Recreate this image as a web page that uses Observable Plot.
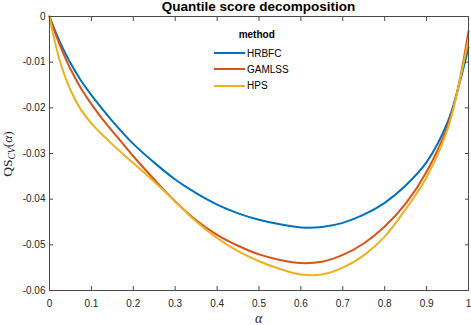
<!DOCTYPE html>
<html>
<head>
<meta charset="utf-8">
<script src="https://cdn.jsdelivr.net/npm/d3@7"></script>
<script src="https://cdn.jsdelivr.net/npm/@observablehq/plot@0.6"></script>
<style>
  html, body { margin: 0; padding: 0; background: #fff; }
  #wrap { position: relative; width: 471px; height: 325px; overflow: hidden;
          font-family: "Liberation Sans", Arial, Helvetica, sans-serif; color: #262626; }
  #wrap svg { position: absolute; left: 0; top: 0; }
  .title { position: absolute; left: 258.6px; top: 0px; transform: translateX(-50%);
           font-weight: bold; font-size: 13.5px; line-height: 1; white-space: nowrap; color: #000; }
  .ylab { position: absolute; left: 9px; top: 153.5px; transform: translate(-50%, -50%) rotate(-90deg);
          font-family: "Liberation Serif", "DejaVu Serif", serif; font-size: 13.5px; line-height: 1; white-space: nowrap; color: #262626; }
  .ylab .ov { border-top: 1px solid #262626; padding-top: 0px; }
  .ylab sub { font-size: 9.5px; vertical-align: -3px; }
  .xlab { position: absolute; left: 258.6px; top: 319px; transform: translate(-50%, -50%);
          font-family: "Liberation Serif", "DejaVu Serif", serif; font-style: italic; font-size: 14px; line-height: 1; color: #262626; }
  .legtitle { position: absolute; left: 256.7px; top: 30px; transform: translateX(-50%);
              font-weight: bold; font-size: 10px; line-height: 1; color: #000; }
  .legend { position: absolute; left: 214px; top: 45.2px; font-size: 10px; color: #000; }
  .row { display: flex; align-items: center; height: 16.2px; }
  .swatch { width: 31px; height: 2px; margin-right: 2px; }
</style>
</head>
<body>
<div id="wrap"></div>
<script>
// ---- data ----
const methods = ["HRBFC", "GAMLSS", "HPS"];
const colors = ["#0072BD", "#D95319", "#EDB120"];
const alpha = [0, 0.01, 0.025, 0.05, 0.075, 0.1, 0.125, 0.15, 0.2, 0.25, 0.3, 0.35, 0.4, 0.45, 0.5,
               0.55, 0.6, 0.65, 0.7, 0.75, 0.8, 0.85, 0.9, 0.95, 0.975, 1];
const hrbfc  = [0, -0.0024, -0.0056, -0.0102, -0.0140, -0.0172, -0.0201, -0.0229, -0.0279, -0.0320, -0.0357, -0.0387, -0.0412,
                -0.0431, -0.0445, -0.0455, -0.0462, -0.0461, -0.0452, -0.0434, -0.0408, -0.0370, -0.0319, -0.0232, -0.0158, -0.0068];
const gamlss = [0, -0.0027, -0.0063, -0.0115, -0.0157, -0.0192, -0.0223, -0.0251, -0.0306, -0.0357, -0.0405, -0.0446, -0.0478,
                -0.0502, -0.0521, -0.0533, -0.0540, -0.0537, -0.0522, -0.0497, -0.0460, -0.0410, -0.0340, -0.0240, -0.0157, -0.0032];
const hps    = [0, -0.0044, -0.0098, -0.0161, -0.0204, -0.0234, -0.0258, -0.0280, -0.0321, -0.0362, -0.0405, -0.0449, -0.0485,
                -0.0514, -0.0536, -0.0553, -0.0565, -0.0565, -0.0550, -0.0523, -0.0482, -0.0422, -0.0352, -0.0247, -0.0158, -0.0049];
const xTicks = [0, 0.1, 0.2, 0.3, 0.4, 0.5, 0.6, 0.7, 0.8, 0.9, 1];
const xTickLabels = ["0", "0.1", "0.2", "0.3", "0.4", "0.5", "0.6", "0.7", "0.8", "0.9", "1"];
const yTicks = [-0.06, -0.05, -0.04, -0.03, -0.02, -0.01, 0];
const yTickLabels = ["-0.06", "-0.05", "-0.04", "-0.03", "-0.02", "-0.01", "0"];
const titleText = "Quantile score decomposition";
const legendTitle = "method";

// ---- build ----
const series = [hrbfc, gamlss, hps];
const rows = methods.flatMap((m, i) => alpha.map((a, j) => ({alpha: a, value: series[i][j], method: m})));
const xfmt = d => xTickLabels[xTicks.indexOf(d)];
const yfmt = d => yTickLabels[yTicks.indexOf(d)];
const blank = () => "";

const plot = Plot.plot({
  width: 471,
  height: 325,
  marginLeft: 49,
  marginRight: 3,
  marginTop: 16,
  marginBottom: 35,
  style: {fontFamily: '"Liberation Sans", Arial, Helvetica, sans-serif', fontSize: "10px", color: "#262626", background: "transparent", overflow: "visible"},
  x: {domain: [0, 1]},
  y: {domain: [-0.06, 0]},
  color: {domain: methods, range: colors},
  marks: [
    Plot.line(rows, {x: "alpha", y: "value", stroke: "method", strokeWidth: 2, curve: "catmull-rom"}),
    Plot.frame({stroke: "#4a4a4a", strokeWidth: 1}),
    Plot.axisX(xTicks, {anchor: "bottom", tickSize: 0, tickPadding: 9, tickFormat: xfmt, label: null}),
    Plot.axisX(xTicks, {anchor: "bottom", tickSize: -4, tickFormat: blank, label: null, stroke: "#4a4a4a"}),
    Plot.axisX(xTicks, {anchor: "top", tickSize: -4, tickFormat: blank, label: null, stroke: "#4a4a4a"}),
    Plot.axisY(yTicks, {anchor: "left", tickSize: 0, tickPadding: 4, tickFormat: yfmt, label: null}),
    Plot.axisY(yTicks, {anchor: "left", tickSize: -4, tickFormat: blank, label: null, stroke: "#4a4a4a"}),
    Plot.axisY(yTicks, {anchor: "right", tickSize: -4, tickFormat: blank, label: null, stroke: "#4a4a4a"})
  ]
});

const wrap = document.getElementById("wrap");
wrap.appendChild(plot);

const t = document.createElement("div");
t.className = "title"; t.textContent = titleText; wrap.appendChild(t);

const yl = document.createElement("div");
yl.className = "ylab";
yl.innerHTML = '<span class="ov">QS</span><sub><i>CV</i></sub>(<i>α</i>)';
wrap.appendChild(yl);

const xl = document.createElement("div");
xl.className = "xlab"; xl.textContent = "α"; wrap.appendChild(xl);

const lt = document.createElement("div");
lt.className = "legtitle"; lt.textContent = legendTitle; wrap.appendChild(lt);

const color = plot.scale("color");
const leg = document.createElement("div");
leg.className = "legend";
methods.forEach((m, i) => {
  const r = document.createElement("div"); r.className = "row";
  const s = document.createElement("div"); s.className = "swatch";
  s.style.background = color.range[color.domain.indexOf(m)];
  const l = document.createElement("span"); l.textContent = m;
  r.appendChild(s); r.appendChild(l); leg.appendChild(r);
});
wrap.appendChild(leg);
</script>
</body>
</html>
